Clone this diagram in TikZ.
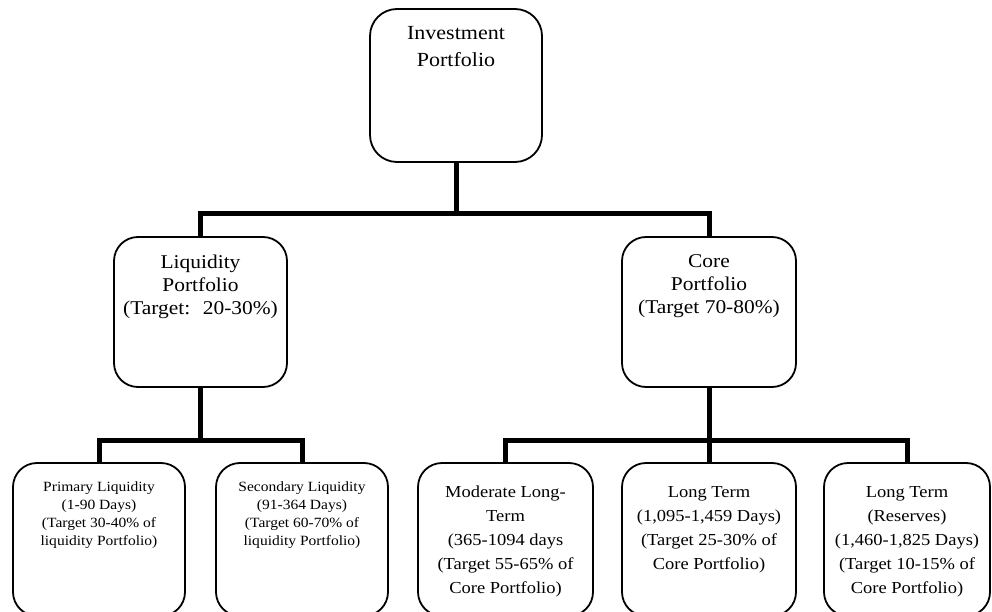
\documentclass[tikz,border=0pt]{standalone}
\usepackage{fontspec}
\setmainfont{Liberation Serif}[FakeStretch=1.1]
\usepackage{tikz}

\begin{document}
\begin{tikzpicture}[x=1pt,y=1pt,
  box/.style={draw=drawColor,line width=1.8pt,rounded corners=24pt,fill=fillColor,anchor=north west,inner sep=0pt,outer sep=0pt},
  txt/.style={text=drawColor,anchor=north,align=center,inner sep=0pt,outer sep=0pt},
  conn/.style={draw=drawColor,line width=5pt,line join=miter}]
\definecolor{drawColor}{RGB}{0,0,0}
\definecolor{fillColor}{RGB}{255,255,255}
\path[use as bounding box,fill=fillColor] (0,0) rectangle (992,611);
\begin{scope}
\path[clip] (0,0) rectangle (992,611);

% boxes
\node[box,minimum width=172pt,minimum height=153pt,rounded corners=27pt] (inv) at (370,602) {};

\node[box,minimum width=173pt,minimum height=150pt] (liq) at (114,374) {};
\node[box,minimum width=174pt,minimum height=150pt] (core) at (622,374) {};

\node[box,minimum width=172pt,minimum height=153pt] (prim) at ( 13,148) {};
\node[box,minimum width=172pt,minimum height=153pt] (sec) at (216,148) {};
\node[box,minimum width=175pt,minimum height=153pt] (mod) at (418,148) {};
\node[box,minimum width=174pt,minimum height=153pt] (lt) at (622,148) {};
\node[box,minimum width=166pt,minimum height=153pt] (res) at (824,148) {};

% connectors
\coordinate (jtop) at (inv.south |- 0,397);
\coordinate (jliq) at (liq.south |- 0,171);
\coordinate (jcore) at (core.south |- 0,171);

\path[conn] (inv.south) -- (jtop);
\path[conn] (liq.north) |- (jtop) -| (core.north);

\path[conn] (liq.south) -- (jliq);
\path[conn] (prim.north) |- (jliq) -| (sec.north);

\path[conn] (core.south) -- (lt.north);
\path[conn] (mod.north) |- (jcore) -| (res.north);

% texts
\node[txt,font=\fontsize{20}{27}\selectfont] (inv-t) at ([yshift=-17pt]inv.north) {Investment\\Portfolio};

\node[txt,font=\fontsize{19.5}{23}\selectfont] (liq-t) at ([yshift=-18pt]liq.north) {Liquidity\\Portfolio\\(Target:~ 20-30\%)};
\node[txt,font=\fontsize{19.5}{23}\selectfont] (core-t) at ([yshift=-18pt]core.north) {Core\\Portfolio\\(Target 70-80\%)};

\node[txt,font=\fontsize{14.1}{17.9}\selectfont] (prim-t) at ([yshift=-19pt]prim.north) {Primary Liquidity\\(1-90 Days)\\(Target 30-40\% of\\liquidity Portfolio)};
\node[txt,font=\fontsize{14.1}{17.9}\selectfont] (sec-t) at ([yshift=-19pt]sec.north) {Secondary Liquidity\\(91-364 Days)\\(Target 60-70\% of\\liquidity Portfolio)};

\node[txt,font=\fontsize{16.8}{24}\selectfont] (mod-t) at ([yshift=-23pt]mod.north) {Moderate Long-\\Term\\(365-1094 days\\(Target 55-65\% of\\Core Portfolio)};
\node[txt,font=\fontsize{16.8}{24}\selectfont] (lt-t) at ([yshift=-23pt]lt.north) {Long Term\\(1,095-1,459 Days)\\(Target 25-30\% of\\Core Portfolio)};
\node[txt,font=\fontsize{16.8}{24}\selectfont] (res-t) at ([yshift=-23pt]res.north) {Long Term\\(Reserves)\\(1,460-1,825 Days)\\(Target 10-15\% of\\Core Portfolio)};
\end{scope}
\end{tikzpicture}
\end{document}
